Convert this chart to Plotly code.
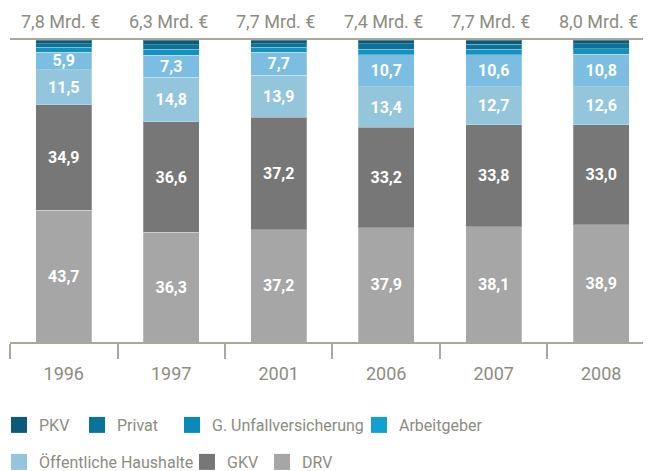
import plotly.graph_objects as go

years = ["1996", "1997", "2001", "2006", "2007", "2008"]
totals = [7.8, 6.3, 7.7, 7.4, 7.7, 8.0]

drv = [43.7, 36.3, 37.2, 37.9, 38.1, 38.9]
gkv = [34.9, 36.6, 37.2, 33.2, 33.8, 33.0]
oeff = [11.5, 14.8, 13.9, 13.4, 12.7, 12.6]
arbeitgeber = [5.9, 7.3, 7.7, 10.7, 10.6, 10.8]
unfall = [1.6, 1.9, 1.6, 1.8, 1.8, 1.8]
privat = [1.1, 1.6, 1.2, 1.8, 1.6, 1.6]
pkv = [1.3, 1.5, 1.2, 1.2, 1.4, 1.3]

legend_names = ["PKV", "Privat", "G. Unfallversicherung", "Arbeitgeber",
                "Öffentliche Haushalte", "GKV", "DRV"]
legend_colors = ["#0b5b78", "#0a7399", "#0b8ab8", "#12a0d4",
                 "#93c6dc", "#777777", "#a5a6a5"]

FONT = "Roboto, sans-serif"
GRAY = "#8c8c82"
OFF = 8                      # page body margin of the browser
W, H = 651 - OFF, 471 - OFF
ML = 10 - OFF
PW = W - ML

# legend placement in window pixels (swatch left, row centre)
legend_pos = [(10, 425), (88, 425), (183, 425), (370, 425),
              (10, 462), (198, 462), (273, 462)]

# stacking order bottom -> top
series = [
    ("DRV", drv, "#a5a6a5", True),
    ("GKV", gkv, "#777777", True),
    ("Öffentliche Haushalte", oeff, "#93c6dc", True),
    ("Arbeitgeber", arbeitgeber, "#7cbee1", True),
    ("G. Unfallversicherung", unfall, "#1790be", False),
    ("Privat", privat, "#0a7399", False),
    ("PKV", pkv, "#0b5b78", False),
]

fig = go.Figure()
for name, vals, color, lab in series:
    fig.add_trace(go.Bar(
        x=years, y=vals, name=name, showlegend=False,
        marker=dict(color=color, line=dict(color="rgba(255,255,255,0.25)", width=1)),
        width=0.52,
        texttemplate="%{y:.1f}" if lab else None,
        textposition="inside" if lab else "none",
        insidetextanchor="middle",
        textangle=0,
        textfont=dict(color="white", size=16, family=FONT, weight="bold"),
        hoverinfo="skip",
    ))

legend_layouts = {}
for i, (name, color) in enumerate(zip(legend_names, legend_colors)):
    lg = "legend" if i == 0 else f"legend{i + 1}"
    fig.add_trace(go.Scatter(
        x=[years[0]], y=[None], mode="markers", name=name,
        marker=dict(symbol="square", size=17, color=color),
        showlegend=True, legend=lg,
    ))
    sx, cy = legend_pos[i]
    lfig = sx - OFF - 11
    legend_layouts[lg] = dict(
        orientation="h",
        xref="paper", yref="container",
        x=(lfig - ML) / PW, xanchor="left",
        y=1 - (cy - OFF) / H, yanchor="middle",
        font=dict(size=16, color=GRAY, family=FONT),
        itemsizing="trace", bgcolor="rgba(0,0,0,0)",
    )

for i, t in enumerate(totals):
    fig.add_annotation(
        x=i, y=1, xref="x", yref="paper",
        xanchor="center", yanchor="bottom", yshift=6, xshift=-3,
        text=f"{t:.1f}".replace(".", ",") + " Mrd. €", showarrow=False,
        font=dict(size=18, color=GRAY, family=FONT),
    )

fig.update_layout(
    width=W, height=H,
    barmode="stack",
    separators=",.",
    plot_bgcolor="white", paper_bgcolor="white",
    margin=dict(l=ML, r=0, t=40 - OFF, b=H - (342 - OFF), autoexpand=False),
    uniformtext=dict(minsize=16, mode="show"),
    font=dict(family=FONT, color=GRAY),
    xaxis=dict(
        type="category", range=[-0.5, 5.463],
        showline=True, linecolor="#a8a89c", linewidth=1.5, mirror=True,
        ticks="outside", tickson="boundaries", ticklen=15, tickcolor="#a8a89c",
        tickwidth=1.5, showgrid=False, ticklabelstandoff=15,
        tickfont=dict(size=18, color=GRAY, family=FONT),
    ),
    yaxis=dict(range=[0, 100], visible=False, showgrid=False),
    **legend_layouts,
)

fig.write_html("out.html")
